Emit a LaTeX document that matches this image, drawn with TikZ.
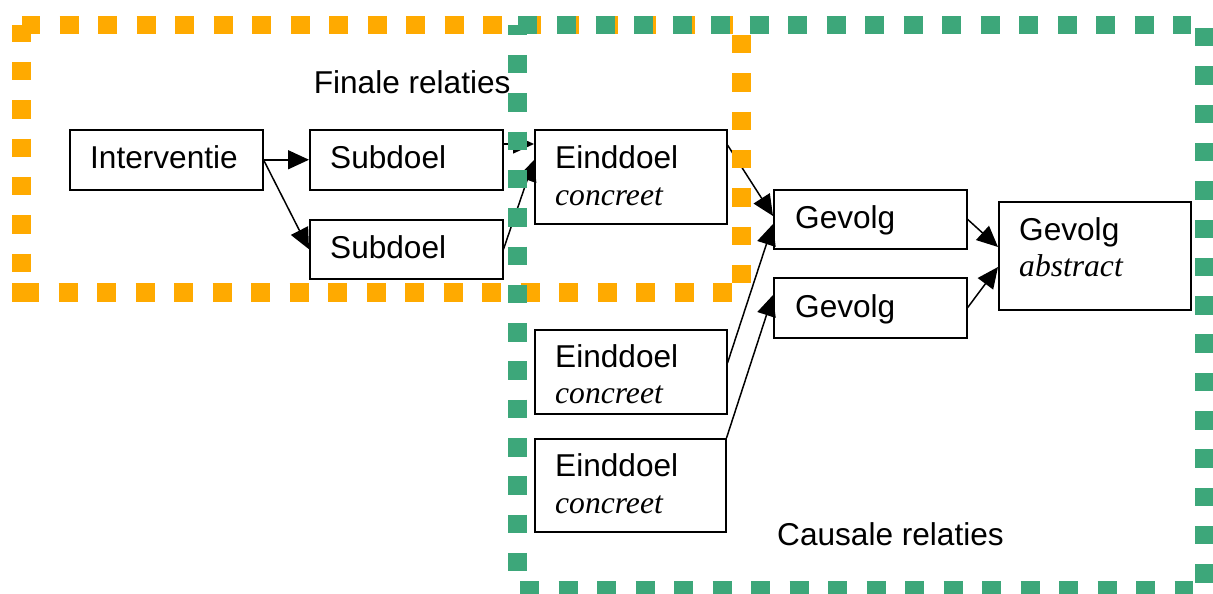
\documentclass[tikz,border=0pt]{standalone}
\usepackage{fontspec}
\setmainfont{Liberation Sans}
\newfontfamily\tmsfont{Liberation Serif}
\usetikzlibrary{arrows.meta}
\definecolor{framorange}{RGB}{255,170,0}
\definecolor{framgreen}{RGB}{61,167,122}
\newcommand\bigfs{\fontsize{31.6pt}{37pt}\selectfont}
\tikzset{
  boxnode/.style={draw, line width=1.5pt, fill=white, inner sep=0pt, anchor=north west},
  lbl/.style={anchor=base west, inner sep=0pt, font=\bigfs},
  arr/.style={-{Triangle[length=21pt,width=19pt]}, line width=1.5pt},
  hdash/.style={line width=18.5pt, dash pattern=on 19pt off 19.5pt},
  vdash/.style={line width=19pt, dash pattern=on 18.5pt off 19.8pt},
}
\begin{document}
\begin{tikzpicture}[x=1pt,y=-1pt]
\useasboundingbox (0,0) rectangle (1213,594);
% boxes
\node[boxnode, minimum width=193pt, minimum height=60pt] (iv) at (69,129) {};
\node[boxnode, minimum width=193pt, minimum height=60pt] (s1) at (309,129) {};
\node[boxnode, minimum width=193pt, minimum height=59pt] (s2) at (309,219) {};
\node[boxnode, minimum width=192pt, minimum height=94pt] (e1) at (534,129) {};
\node[boxnode, minimum width=192pt, minimum height=84pt] (e2) at (534,329) {};
\node[boxnode, minimum width=191pt, minimum height=93pt] (e3) at (534,438) {};
\node[boxnode, minimum width=193pt, minimum height=59pt] (g1) at (773,189) {};
\node[boxnode, minimum width=193pt, minimum height=60pt] (g2) at (773,277) {};
\node[boxnode, minimum width=192pt, minimum height=108pt] (ga) at (998,201) {};
% labels
\node[lbl] (ivt) at ([shift={(21pt,-39pt)}]iv.north west) {Interventie};
\node[lbl] (s1t) at ([shift={(21pt,-39pt)}]s1.north west) {Subdoel};
\node[lbl] (s2t) at ([shift={(21pt,-39pt)}]s2.north west) {Subdoel};
\node[lbl] (e1t) at ([shift={(21pt,-39pt)}]e1.north west) {Einddoel};
\node[lbl] (e1c) at ([shift={(21pt,-76pt)}]e1.north west) {\tmsfont\itshape concreet};
\node[lbl] (e2t) at ([shift={(21pt,-38pt)}]e2.north west) {Einddoel};
\node[lbl] (e2c) at ([shift={(21pt,-74pt)}]e2.north west) {\tmsfont\itshape concreet};
\node[lbl] (e3t) at ([shift={(21pt,-38pt)}]e3.north west) {Einddoel};
\node[lbl] (e3c) at ([shift={(21pt,-75pt)}]e3.north west) {\tmsfont\itshape concreet};
\node[lbl] (g1t) at ([shift={(22pt,-39pt)}]g1.north west) {Gevolg};
\node[lbl] (g2t) at ([shift={(22pt,-40pt)}]g2.north west) {Gevolg};
\node[lbl] (gat) at ([shift={(21pt,-39pt)}]ga.north west) {Gevolg};
\node[lbl] (gac) at ([shift={(21pt,-75pt)}]ga.north west) {\tmsfont\itshape abstract};
\node[lbl] (fin) at (313.6,93) {Finale relaties};
\node[lbl] (cau) at (777,545) {Causale relaties};
% arrows
\draw[arr] (iv.east) -- (s1.west);
\draw[arr] (iv.east) -- (s2.west);
\draw[arr] ([yshift=-15pt]s1.north east) -- ([yshift=-15pt]e1.north west);
\draw[arr] (s2.east) -- ([yshift=-31pt]e1.north west);
\draw[arr] ([yshift=-16pt]e1.north east) -- ([yshift=-27pt]g1.north west);
\draw[arr] ([yshift=-34pt]e2.north east) -- ([yshift=-35pt]g1.north west);
\draw[arr] (e3.north east) -- ([yshift=-18pt]g2.north west);
\draw[arr] (g1.east) -- ([yshift=-46pt]ga.north west);
\draw[arr] (g2.east) -- ([yshift=-66pt]ga.north west);
% orange frame
\draw[framorange, hdash] (59.6,25) -- (734,25);
\draw[framorange, hdash] (58.5,292.5) -- (732,292.5);
\draw[framorange, vdash] (21.5,62) -- (21.5,274);
\draw[framorange, vdash] (741.5,35) -- (741.5,285);
\fill[framorange] (12,25) rectangle (31,42);
\fill[framorange] (22,16) rectangle (40,34);
\fill[framorange] (12,283) rectangle (39,302);
% green frame
\draw[framgreen, hdash] (557,25) -- (1191,25);
\draw[framgreen, hdash] (520,590) -- (1193,590);
\draw[framgreen, vdash] (517.5,55) -- (517.5,574);
\draw[framgreen, vdash] (1204.5,28) -- (1204.5,585);
\fill[framgreen] (508,25) rectangle (527,35);
\fill[framgreen] (518,16) rectangle (537,34);
\end{tikzpicture}
\end{document}
